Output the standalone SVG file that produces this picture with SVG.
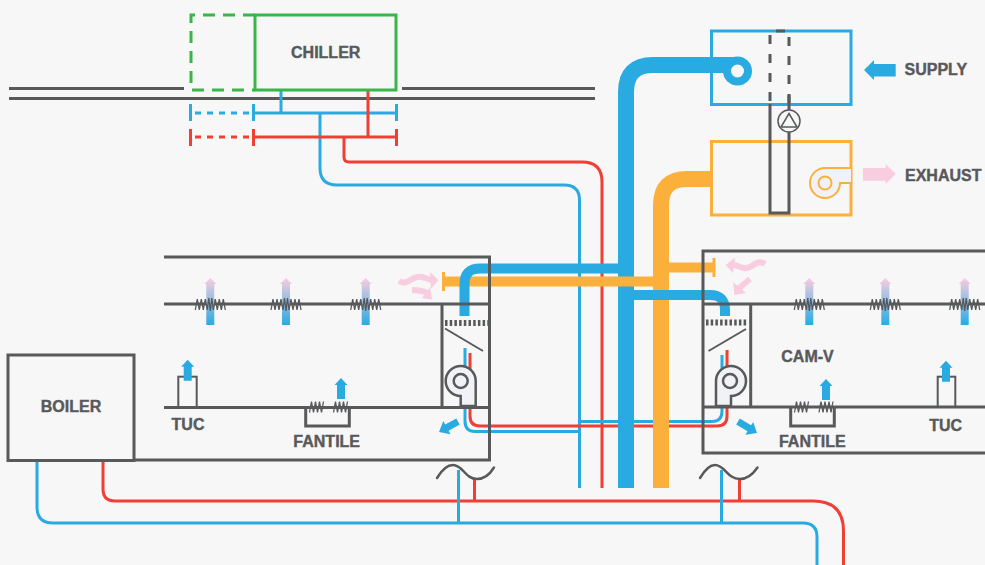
<svg xmlns="http://www.w3.org/2000/svg" width="985" height="565" viewBox="0 0 985 565">
<style>
.g{fill:none;stroke:#58595b;stroke-width:3}
.b{fill:none;stroke:#29abe2;stroke-width:3}
.r{fill:none;stroke:#f04036;stroke-width:3}
.gr{fill:none;stroke:#39b54a;stroke-width:3}
.o{fill:none;stroke:#fbb03b;stroke-width:3}
.bd{fill:none;stroke:#29abe2;stroke-width:16}
.od{fill:none;stroke:#fbb03b;stroke-width:16}
.bs{fill:none;stroke:#29abe2;stroke-width:10}
.os{fill:none;stroke:#fbb03b;stroke-width:10}
.fan{fill:#f1f2f5;stroke:#58595b;stroke-width:2.5}
.t{font-family:"Liberation Sans",Arial,sans-serif;font-weight:700;font-size:16px;fill:#58595b;stroke:#58595b;stroke-width:.4;text-anchor:middle}
.ab{fill:#29abe2}
.ap{fill:#f9cde0}
.pk{fill:none;stroke:#f9cde0;stroke-width:6}
.c{fill:none;stroke:#58595b;stroke-width:1.3}
.sine{fill:none;stroke:#58595b;stroke-width:2.5;stroke-linecap:round}
</style>
<defs>
<linearGradient id="grad" x1="0" y1="1" x2="0" y2="0">
<stop offset="0" stop-color="#29abe2"/><stop offset="1" stop-color="#f9cde0"/>
</linearGradient>
<path id="upb" class="ab" d="M-4 0V-14H-6.500L0 -21L6.500 -14H4V0Z"/>
<g id="diff">
<path fill="url(#grad)" d="M-4 21V-20H-6L0 -26L6 -20H4V21Z"/>
<path class="c" d="M-15 6L-13 -5L-11 6L-9 -5L-7 6L-5 -5L-3 6L-1.500 -6L0 7L1.500 -6L3 6L5 -5L7 6L9 -5L11 6L13 -5L15 6"/>
</g>
<path id="coil" class="c" d="M-7 5.500L-5 -5.500L-3 5.500L-1 -5.500L1 5.500L3 -5.500L5 5.500L7 -5.500"/>
</defs>
<rect width="985" height="565" fill="#f7f7f7"/>

<g id="connectors">
<path class="g" d="M9 88.500H184M402 88.500H595M9 98.500H595"/>
<path class="b" d="M281 90V113M253 113H397M320 113V168Q320 185 337 185H564Q579.500 185 579.500 200V488"/>
<path class="r" d="M368 90V137M253 137H397M344 137V157Q344 162 349 162H582Q602 162 602 182V488"/>
<path class="b" stroke-dasharray="6 6" d="M195 113H253"/>
<path class="r" stroke-dasharray="6 6" d="M195 137H253"/>
<path class="b" d="M190.500 104V121M253.500 104V121M396.500 104V121"/>
<path class="r" d="M190.500 129V146M253.500 129V146M396.500 129V146"/>
<path class="b" d="M37 460V507Q37 523 53 523H803Q817 523 817 537V565"/>
<path class="r" d="M103 460V489Q103 501 115 501H813Q843.500 501 843.500 531V565"/>
<path class="b" d="M458.500 470V523M721.500 470V523"/>
<path class="r" d="M474.500 479V501M739.500 479V501"/>
<path class="b" d="M465 348V372M465 407V421Q465 431.500 475 431.500H579.500M579.500 421.500H712Q722 421.500 722 411V407M722 355V372"/>
<path class="r" d="M470 353V372M470 407V416Q470 426 480 426H717Q727 426 727 416V407M727 350V372"/>
<path class="od" d="M661 488V205Q661 179 687 179H711"/>
<path class="bd" d="M626 488V92Q626 65 653 65H737"/>
<path class="os" d="M669 267.500H714"/>
<path class="os" d="M443 281.500H654"/>
<path class="o" d="M443.500 272V291M714 258V277"/>
<path class="bs" d="M626 268.500H480Q464.500 268.500 464.500 284V316M626 295H710Q725 295 725 310V316"/>
</g>

<g id="chiller">
<path class="gr" stroke-dasharray="12 8" d="M255 15H191V90H255"/>
<rect class="gr" x="255" y="15" width="141" height="75"/>
<text class="t" x="325.700" y="58">CHILLER</text>
</g>

<g id="supply">
<rect class="b" x="711.500" y="31" width="139.500" height="73.500"/>
<circle cx="737.500" cy="71" r="14.500" fill="#29abe2"/>
<circle cx="737.500" cy="71" r="6.500" fill="#f7f7f7"/>
<path class="g" stroke-dasharray="9 10" d="M770 35V104M789 37V104"/>
<path class="g" d="M776 31H785"/>
<path class="ab" d="M864 70L874 60V64H895.700V76.500H874V80Z"/>
<text class="t" x="904.500" y="74.700" style="text-anchor:start">SUPPLY</text>
</g>

<g id="exhaust">
<rect class="o" x="711.500" y="141.500" width="139.500" height="73.500"/>
<path d="M851 168H825A15 15 0 1 0 840 183H851" fill="#f1f2f5" stroke="#fbb03b" stroke-width="2"/>
<circle cx="825" cy="183" r="6.500" fill="none" stroke="#fbb03b" stroke-width="2"/>
<path class="g" d="M770 104V213H789V132M789 95V110"/>
<circle cx="789" cy="121" r="11" fill="#f7f7f7" stroke="#58595b" stroke-width="1.500"/>
<path d="M789 113.500L797 127H781Z" fill="none" stroke="#58595b" stroke-width="1.500"/>
<path class="ap" d="M895.700 174L885.700 164V168H863V180.700H885.700V184Z"/>
<text class="t" x="905" y="181" style="text-anchor:start">EXHAUST</text>
</g>

<g id="boiler">
<rect class="g" x="8" y="355" width="126" height="105.500"/>
<text class="t" x="71" y="411.700">BOILER</text>
</g>

<g id="zone-left">
<path class="g" d="M164 257H489.500V460H134M164 304H489.500M164 407.500H489.500M442 304V407.500"/>
<path d="M445 323H488" fill="none" stroke="#58595b" stroke-width="6" stroke-dasharray="2.500 2.200"/>
<path d="M445 328.500L483 351" fill="none" stroke="#58595b" stroke-width="2"/>
<path class="fan" d="M475.700 406V381A15 15 0 1 0 460.700 396V406Z"/>
<circle cx="460.700" cy="381" r="7" fill="none" stroke="#58595b" stroke-width="2.500"/>
<path class="pk" d="M399 281C408 287 412 274 422 277C426 278 429 280 432 280"/>
<path class="ap" d="M430 272L438.500 280L431 289Z"/>
<path class="pk" d="M412 290C418 290 423 291 427 293"/>
<path class="ap" d="M422 298L432 299.500L430 287Z"/>
<path class="ab" d="M456.300 418.400L445.200 424.500L443.300 421L439 432L450.500 434.200L448.600 430.700L459.700 424.600Z"/>
<use href="#diff" x="210.300" y="304"/>
<use href="#diff" x="286" y="304"/>
<use href="#diff" x="365.700" y="304"/>
<rect class="g" style="stroke-width:2" x="178.300" y="376.700" width="18.400" height="30.300"/>
<use href="#upb" x="187.700" y="380.700"/>
<path class="g" d="M305.700 407V426H349.300V407"/>
<use href="#coil" x="316.500" y="407"/>
<use href="#coil" x="340.500" y="407"/>
<use href="#upb" x="341" y="399"/>
<text class="t" x="188" y="430">TUC</text>
<text class="t" x="326.700" y="446.700">FANTILE</text>
<path class="sine" d="M437 478C443 468 449 465 453 465C463 465 465 479 477 479C485 479 490 474 494 467.500"/>
</g>

<g id="zone-right">
<path class="g" d="M985 251H703V453H985M703 304H985M703 407H985M750.700 304V407"/>
<path d="M706 322.500H747" fill="none" stroke="#58595b" stroke-width="6" stroke-dasharray="2.500 2.200"/>
<path d="M708.500 351L746 329" fill="none" stroke="#58595b" stroke-width="2"/>
<path class="fan" d="M716 406V381A15 15 0 1 1 731 396V406Z"/>
<circle cx="730" cy="381" r="7" fill="none" stroke="#58595b" stroke-width="2.500"/>
<path class="pk" d="M765 264C756 258 752 270 744 268C739 267 736 265 733 265"/>
<path class="ap" d="M735 257.500L725.700 265L733 273Z"/>
<path class="pk" d="M750 279L738 289"/>
<path class="ap" d="M733 282L734.500 295L746 293Z"/>
<path class="ab" d="M739.800 418.500L751.100 425.300L753.200 421.900L757 433L745.400 434.700L747.500 431.300L736.200 424.500Z"/>
<use href="#diff" x="809.300" y="304"/>
<use href="#diff" x="885.300" y="304"/>
<use href="#diff" x="964.700" y="304"/>
<rect class="g" style="stroke-width:2" x="937.700" y="376.700" width="17.600" height="30.300"/>
<use href="#upb" x="946" y="381.700"/>
<path class="g" d="M790.700 407V426H834.300V407"/>
<use href="#coil" x="801.500" y="407"/>
<use href="#coil" x="826" y="407"/>
<use href="#upb" x="826" y="400"/>
<text class="t" x="807.500" y="361.700">CAM-V</text>
<text class="t" x="945.700" y="431">TUC</text>
<text class="t" x="812.300" y="446.700">FANTILE</text>
<path class="sine" d="M700 478C706 468 711 465 715 465C725 465 727 479 740 479C748 479 753 474 757.500 467.500"/>
</g>
</svg>
